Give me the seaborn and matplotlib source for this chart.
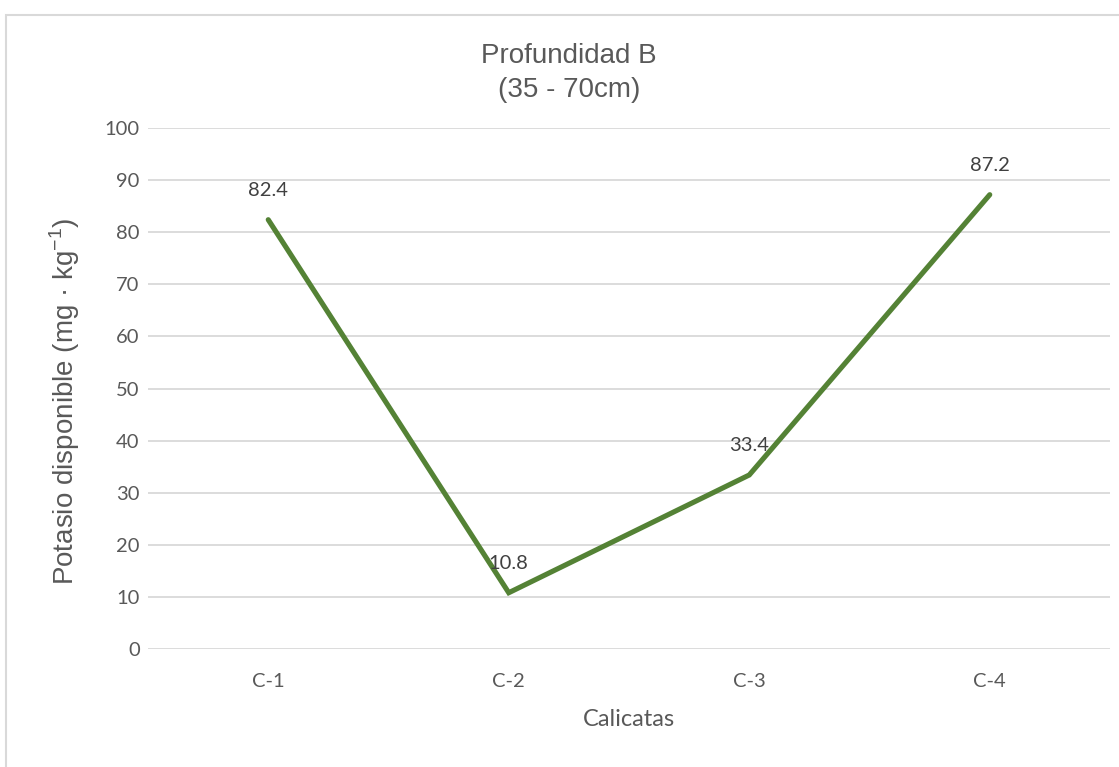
import matplotlib
matplotlib.use("Agg")
import matplotlib.pyplot as plt
import seaborn as sns
import pandas as pd
from matplotlib.patches import Rectangle

categories = ["C-1", "C-2", "C-3", "C-4"]
values = [82.4, 10.8, 33.4, 87.2]
y_ticks = [0, 10, 20, 30, 40, 50, 60, 70, 80, 90, 100]

df = pd.DataFrame({"Calicatas": categories, "Potasio": values})

sns.set_theme(style="white")
plt.rcParams["font.family"] = ["Lato", "DejaVu Sans"]
plt.rcParams["mathtext.fontset"] = "custom"
plt.rcParams["mathtext.rm"] = "Liberation Sans"

W, H = 1119, 767
fig = plt.figure(figsize=(W / 100, H / 100), dpi=100)
L, R, T, B = 148, 1110, 128, 649
ax = fig.add_axes([L / W, 1 - B / H, (R - L) / W, (B - T) / H])

sns.lineplot(data=df, x="Calicatas", y="Potasio", ax=ax, color="#548235",
             linewidth=3.7, sort=False, solid_joinstyle="miter")

ax.set_xlim(-0.5, len(categories) - 0.5)
ax.set_ylim(0, 100)
ax.set_yticks(y_ticks)
ax.set_yticklabels([str(t) for t in y_ticks])
ax.grid(axis="y", color="#D9D9D9", linewidth=1.3)
ax.grid(axis="x", visible=False)
ax.set_axisbelow(True)
for s in ax.spines.values():
    s.set_visible(False)
ax.tick_params(axis="both", length=0, labelsize=14.5, labelcolor="#595959")
ax.tick_params(axis="x", pad=17)
ax.tick_params(axis="y", pad=6)

for i, v in enumerate(values):
    ax.annotate(f"{v}", (i, v), xytext=(0, 17), textcoords="offset points",
                ha="center", va="baseline", fontsize=14.5, color="#404040")

ax.set_xlabel("Calicatas", fontsize=17, color="#595959")
ax.xaxis.set_label_coords(0.5, (B - 720) / (B - T))
ax.xaxis.label.set_va("center")
ax.set_ylabel(r"Potasio disponible (mg · kg$^{\mathrm{-1}}$)", fontsize=20,
              color="#595959", family="Liberation Sans")
ax.yaxis.set_label_coords((65 - L) / (R - L), (B - 401) / (B - T))
ax.yaxis.label.set_va("center")

fig.text(569 / W, 1 - 63 / H, "Profundidad B", ha="center", va="baseline",
         fontsize=20, color="#595959", family="Liberation Sans")
fig.text(569 / W, 1 - 97 / H, "(35 - 70cm)", ha="center", va="baseline",
         fontsize=20, color="#595959", family="Liberation Sans")

fig.add_artist(Rectangle((6 / W, -0.1), 1.2, 1.1 - 15 / H + 0.0,
                         transform=fig.transFigure, fill=False,
                         edgecolor="#D9D9D9", linewidth=1.5))

fig.savefig("out.png", dpi=100)
